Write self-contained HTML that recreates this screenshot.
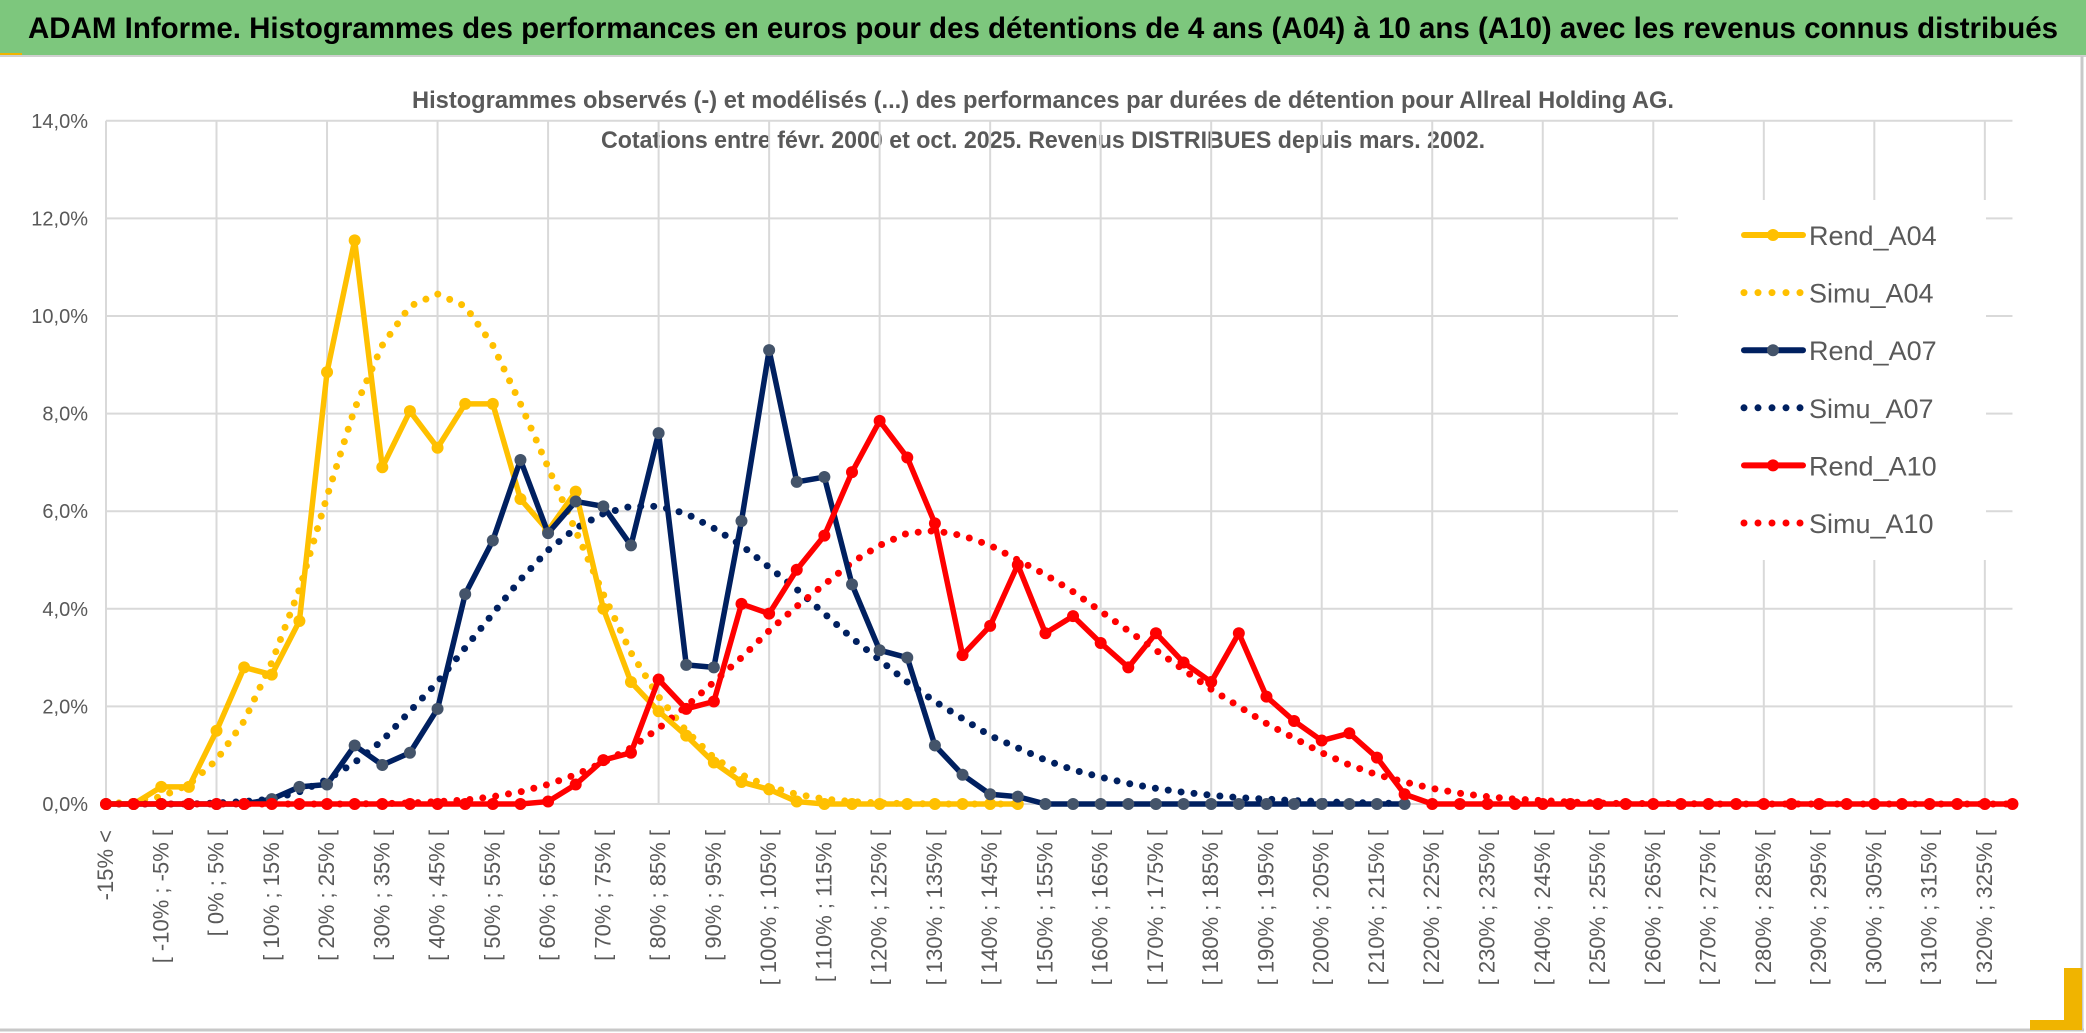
<!DOCTYPE html>
<html><head><meta charset="utf-8"><style>
html,body{margin:0;padding:0;background:#fff;}
svg{display:block;font-family:"Liberation Sans",sans-serif;}
</style></head><body>
<svg id="chart" width="2086" height="1033" viewBox="0 0 2086 1033" xmlns="http://www.w3.org/2000/svg">
<rect x="0" y="0" width="2086" height="1033" fill="#fff"/>
<rect x="0" y="0" width="2086" height="55" fill="#7dc77d"/>
<rect x="0" y="53" width="22" height="3" fill="#f0b400"/>
<line x1="0" y1="56" x2="2086" y2="56" stroke="#d0d0d0" stroke-width="2"/>
<text x="1043" y="38" text-anchor="middle" font-size="30" font-weight="bold" fill="#000" textLength="2030" lengthAdjust="spacingAndGlyphs">ADAM Informe. Histogrammes des performances en euros pour des détentions de 4 ans (A04) à 10 ans (A10) avec les revenus connus distribués</text>
<text x="1043" y="108" text-anchor="middle" font-size="24" font-weight="bold" fill="#595959" textLength="1262" lengthAdjust="spacingAndGlyphs">Histogrammes observés (-) et modélisés (...) des performances par durées de détention pour Allreal Holding AG.</text>
<text x="1043" y="148" text-anchor="middle" font-size="24" font-weight="bold" fill="#595959" textLength="884" lengthAdjust="spacingAndGlyphs">Cotations entre févr. 2000 et oct. 2025. Revenus DISTRIBUES depuis mars. 2002.</text>
<g id="grid"></g>
<g id="series"></g>
<g id="xlabels"></g>
<g id="ylabels"></g>
<g id="legend"></g>
<line x1="2082" y1="56" x2="2082" y2="1030" stroke="#c8c8c8" stroke-width="3"/>
<line x1="0" y1="1030" x2="2084" y2="1030" stroke="#c8c8c8" stroke-width="3"/>
<rect x="2064" y="968" width="18" height="60" fill="#f0b400"/>
<rect x="2030" y="1020" width="52" height="10" fill="#f0b400"/>
</svg>
<script>
const rendA04=[0,0,0.35,0.35,1.5,2.8,2.65,3.75,8.85,11.55,6.9,8.05,7.3,8.2,8.2,6.25,5.6,6.4,4.0,2.5,1.9,1.4,0.85,0.45,0.3,0.05,0,0,0,0,0,0,0,0];
const simuA04=[0,0.05,0.15,0.4,0.9,1.7,2.9,4.4,6.3,8.1,9.4,10.2,10.45,10.2,9.4,8.2,6.9,5.6,4.3,3.1,2.2,1.5,0.95,0.6,0.35,0.2,0.1,0.05,0.02,0.01,0,0,0,0];
const rendA07=[0,0,0,0,0,0,0.1,0.35,0.4,1.2,0.8,1.05,1.95,4.3,5.4,7.05,5.55,6.2,6.1,5.3,7.6,2.85,2.8,5.8,9.3,6.6,6.7,4.5,3.15,3.0,1.2,0.6,0.2,0.15,0,0,0,0,0,0,0,0,0,0,0,0,0,0];
const simuA07=[0,0,0,0,0.02,0.05,0.1,0.25,0.5,0.85,1.3,1.9,2.5,3.2,3.9,4.6,5.2,5.65,5.95,6.1,6.1,5.95,5.65,5.3,4.85,4.4,3.9,3.4,2.95,2.5,2.1,1.75,1.4,1.15,0.9,0.7,0.55,0.42,0.32,0.24,0.18,0.13,0.1,0.07,0.05,0.03,0.02,0.01];
const rendA10=[0,0,0,0,0,0,0,0,0,0,0,0,0,0,0,0,0.05,0.4,0.9,1.05,2.55,1.95,2.1,4.1,3.9,4.8,5.5,6.8,7.85,7.1,5.75,3.05,3.65,4.9,3.5,3.85,3.3,2.8,3.5,2.9,2.5,3.5,2.2,1.7,1.3,1.45,0.95,0.2,0,0,0,0,0,0,0,0,0,0,0,0,0,0,0,0,0,0,0,0,0,0];
const simuA10=[0,0,0,0,0,0,0,0,0,0,0.01,0.02,0.05,0.08,0.15,0.25,0.4,0.6,0.85,1.15,1.55,2.0,2.5,3.0,3.55,4.05,4.5,4.95,5.3,5.55,5.6,5.5,5.3,5.0,4.7,4.35,3.95,3.55,3.15,2.75,2.35,2.0,1.65,1.35,1.05,0.8,0.6,0.45,0.32,0.22,0.15,0.1,0.07,0.04,0.02,0.01,0.01,0.01,0,0,0,0,0,0,0,0,0,0,0,0];
const yTicks=[0,2,4,6,8,10,12,14];
const nCats=70;
const categories=["-15% <"];
for(let k=1;k<nCats;k++){categories.push("[ "+((k-4)*5)+"% ; "+((k-3)*5)+"% [");}
categories[2]="[ -10% ; -5% [";

const NS="http://www.w3.org/2000/svg";
const X0=106, STEP=27.63, Y0=804, YPX=48.8;
const xs=i=>X0+i*STEP;
const ys=v=>Y0-v*YPX;
function mk(tag,attrs,parent){const e=document.createElementNS(NS,tag);for(const k in attrs)e.setAttribute(k,attrs[k]);parent.appendChild(e);return e;}
const grid=document.getElementById('grid');
yTicks.forEach(t=>{
  const l=mk('line',{x1:X0,x2:xs(nCats-1),y1:ys(t),y2:ys(t),stroke:'#d9d9d9','stroke-width':2},grid);
  
  
});
for(let i=0;i<nCats;i+=4){
  const l=mk('line',{x1:xs(i),x2:xs(i),y1:ys(14),y2:ys(0),stroke:'#d9d9d9','stroke-width':2},grid);
  
  
}
const yl=document.getElementById('ylabels');
yTicks.forEach(t=>{
  const tx=mk('text',{x:88,y:ys(t)+7,'text-anchor':'end','font-size':20,fill:'#595959'},yl);
  tx.textContent=t.toFixed(1).replace('.',',')+'%';
  
  
});
const xl=document.getElementById('xlabels');
for(let i=0;i<nCats;i+=2){
  const x=xs(i)+7, y=830;
  const tx=mk('text',{x:x,y:y,'text-anchor':'end','font-size':22,fill:'#595959',transform:`rotate(-90 ${x} ${y})`},xl);
  tx.textContent=categories[i];
  
  
}
const ser=document.getElementById('series');
function dotted(arr,color,name){
  const p=mk('polyline',{points:arr.map((v,i)=>xs(i)+','+ys(v)).join(' '),fill:'none',stroke:color,'stroke-width':7,'stroke-linecap':'round','stroke-dasharray':'0 13'},ser);
  
  
}
function solid(arr,color,mcolor,name){
  const p=mk('polyline',{points:arr.map((v,i)=>xs(i)+','+ys(v)).join(' '),fill:'none',stroke:color,'stroke-width':5.5,'stroke-linejoin':'round'},ser);
  
  
  arr.forEach((v,i)=>{
    const c=mk('circle',{cx:xs(i),cy:ys(v),r:6,fill:mcolor},ser);
    
    
  });
}
dotted(simuA04,'#ffc000','simu-a04-line');
dotted(simuA07,'#002060','simu-a07-line');
dotted(simuA10,'#ff0000','simu-a10-line');
solid(rendA04,'#ffc000','#ffc000','rend-a04-line');
solid(rendA07,'#002060','#44546a','rend-a07-line');
solid(rendA10,'#ff0000','#ff0000','rend-a10-line');

const lg=document.getElementById('legend');
const lb=mk('rect',{x:1678,y:200,width:308,height:360,fill:'#fff'},lg);


const legendItems=[['Rend_A04','#ffc000','#ffc000',false],['Simu_A04','#ffc000','',true],['Rend_A07','#002060','#44546a',false],['Simu_A07','#002060','',true],['Rend_A10','#ff0000','#ff0000',false],['Simu_A10','#ff0000','',true]];
legendItems.forEach((it,k)=>{
  const y=235+k*57.6;
  const g=mk('g',{},lg);
  
  
  if(it[3]){
    mk('line',{x1:1744,x2:1802,y1:y,y2:y,stroke:it[1],'stroke-width':7,'stroke-linecap':'round','stroke-dasharray':'0 14'},g);
  }else{
    mk('line',{x1:1744,x2:1803,y1:y,y2:y,stroke:it[1],'stroke-width':6,'stroke-linecap':'round'},g);
    mk('circle',{cx:1773,cy:y,r:6,fill:it[2]},g);
  }
  const t=mk('text',{x:1809,y:y+10,'font-size':27,fill:'#595959'},g);
  t.textContent=it[0];
});
</script>
</body></html>
